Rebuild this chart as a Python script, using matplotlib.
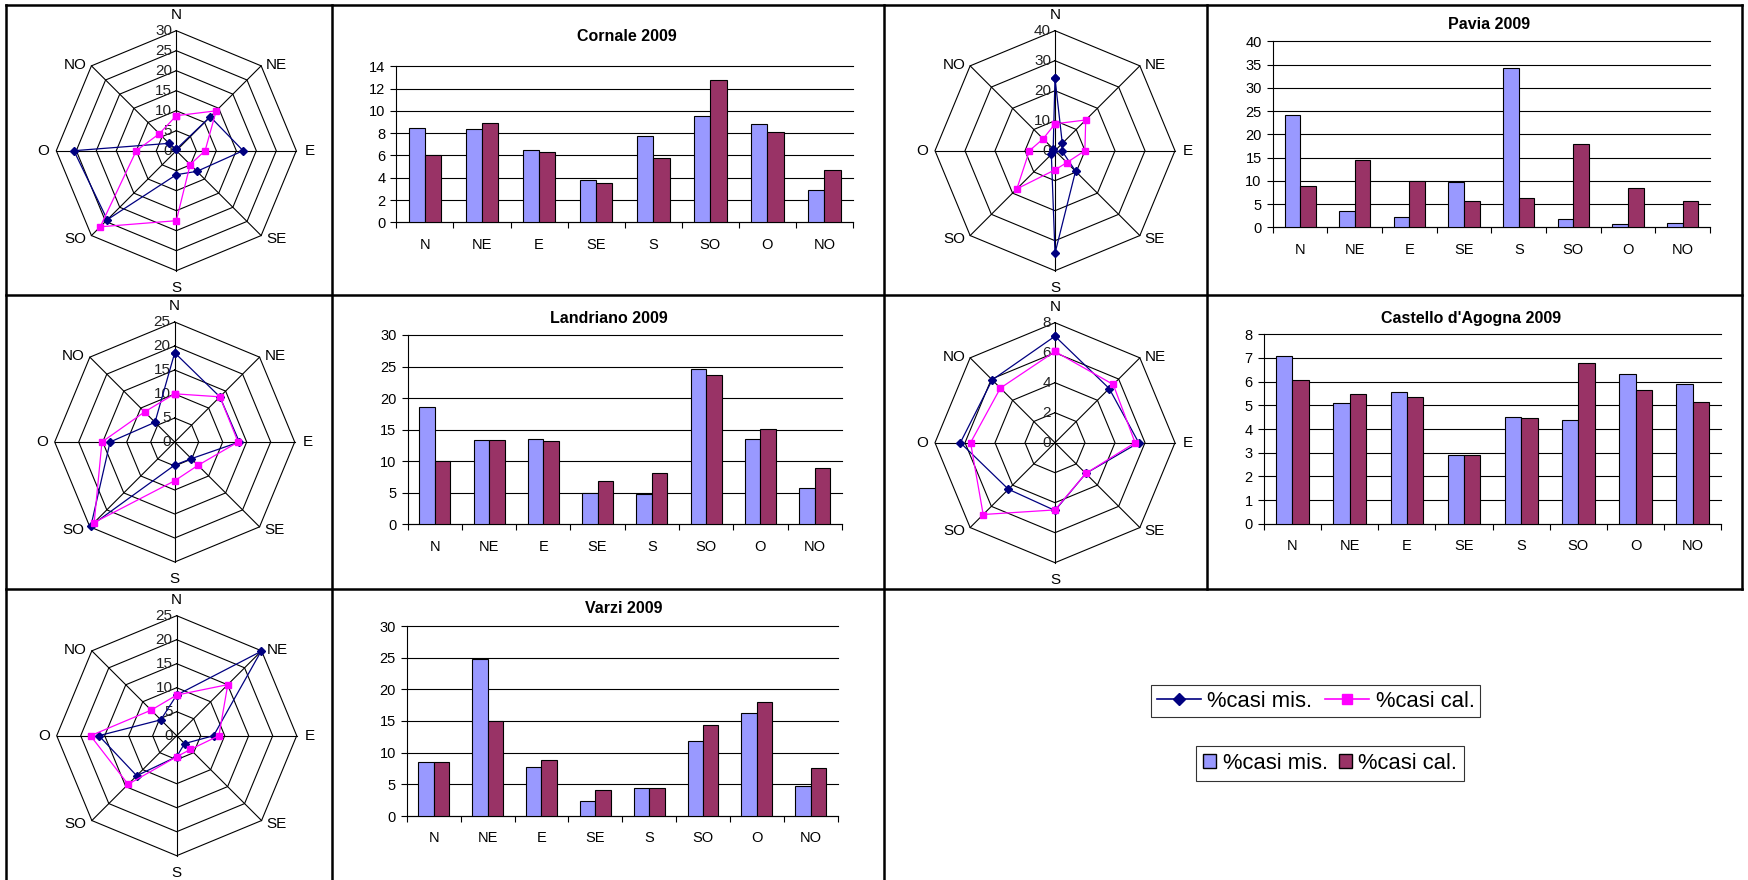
import matplotlib
matplotlib.use('Agg')
import matplotlib.pyplot as plt
import numpy as np
from matplotlib.lines import Line2D
from matplotlib.patches import Patch

plt.rcParams['font.family'] = ['Liberation Sans', 'DejaVu Sans']

W, H = 1748, 880

directions = ['N', 'NE', 'E', 'SE', 'S', 'SO', 'O', 'NO']
label_mis = '%casi mis.'
label_cal = '%casi cal.'

# Radar of the first row (different values from the Cornale bars)
radar1_mis = [0.4, 12.0, 16.7, 7.3, 6.0, 24.4, 25.6, 2.6]
radar1_cal = [8.75, 14.1, 7.2, 4.9, 17.5, 26.9, 10.0, 6.0]

cornale_mis = [8.44, 8.35, 6.46, 3.77, 7.72, 9.51, 8.79, 2.87]
cornale_cal = [6.01, 8.88, 6.28, 3.53, 5.74, 12.74, 8.08, 4.67]

pavia_mis = [24.16, 3.44, 2.29, 9.68, 34.19, 1.72, 0.65, 0.86]
pavia_cal = [8.96, 14.48, 9.96, 5.59, 6.38, 17.99, 8.53, 5.59]

landriano_mis = [18.59, 13.31, 13.47, 4.91, 4.81, 24.67, 13.47, 5.81]
landriano_cal = [10.04, 13.31, 13.21, 6.87, 8.08, 23.72, 15.16, 8.87]

castello_mis = [7.10, 5.11, 5.58, 2.90, 4.52, 4.39, 6.31, 5.92]
castello_cal = [6.08, 5.49, 5.34, 2.90, 4.48, 6.77, 5.63, 5.15]

varzi_mis = [8.47, 24.84, 7.68, 2.32, 4.37, 11.79, 16.21, 4.68]
varzi_cal = [8.47, 15.05, 8.79, 4.05, 4.37, 14.32, 17.95, 7.53]

NAVY = '#000080'
MAGENTA = '#FF00FF'
BLUE_BAR = '#9999FF'
RED_BAR = '#993366'

RADAR_FS = 11
BAR_FS = 10.5
TITLE_FS = 11.5
LEGEND_FS = 15.8

fig = plt.figure(figsize=(W / 100, H / 100), dpi=100)


def px_axes(left, top, right, bottom):
    # axes placed with pixel coordinates measured from the top-left corner
    return fig.add_axes([left / W, 1 - bottom / H, (right - left) / W, (bottom - top) / H])


def draw_radar(cx, cy, mis, cal, rmax, step):
    half = 160
    ax = px_axes(cx - half, cy - half, cx + half, cy + half)
    lim = rmax * half / 120
    ax.set_xlim(-lim, lim)
    ax.set_ylim(-lim, lim)
    ax.axis('off')

    ang = np.radians(np.arange(len(directions)) * 45)
    sx, sy = np.sin(ang), np.cos(ang)
    closed_x = np.append(sx, sx[0])
    closed_y = np.append(sy, sy[0])

    # octagonal grid
    for r in np.arange(step, rmax + step / 2, step):
        ax.plot(closed_x * r, closed_y * r, color='black', lw=0.8, zorder=1)
    for x, y in zip(sx, sy):
        ax.plot([0, x * rmax], [0, y * rmax], color='black', lw=0.8, zorder=1)

    # ring values along the N spoke
    for r in np.arange(0, rmax + step / 2, step):
        ax.annotate(f'{r:g}', (0, r), xytext=(-4, 0), textcoords='offset pixels',
                    ha='right', va='center', fontsize=RADAR_FS, color='#222222', zorder=2)

    # direction labels
    offsets = {'N': (0, 16, 'center'), 'NE': (5, 1, 'left'), 'E': (8, 0, 'left'),
               'SE': (5, -3, 'left'), 'S': (0, -17, 'center'), 'SO': (-5, -3, 'right'),
               'O': (-7, 0, 'right'), 'NO': (-5, 1, 'right')}
    for name, x, y in zip(directions, sx, sy):
        dx, dy, ha = offsets[name]
        ax.annotate(name, (x * rmax, y * rmax), xytext=(dx, dy), textcoords='offset pixels',
                    ha=ha, va='center', fontsize=RADAR_FS)

    m = np.append(mis, mis[0])
    c = np.append(cal, cal[0])
    ax.plot(closed_x * m, closed_y * m, color=NAVY, lw=0.9, marker='D', ms=4, zorder=3, clip_on=False)
    ax.plot(closed_x * c, closed_y * c, color=MAGENTA, lw=0.9, marker='s', ms=4.5, zorder=4, clip_on=False)


def draw_bars(box, title, title_xy, mis, cal, ymax, step):
    ax = px_axes(*box)
    x = np.arange(len(directions)) + 0.5
    w = 1 / 3.5
    ax.bar(x - w / 2, mis, w, color=BLUE_BAR, edgecolor='black', lw=0.8, zorder=3)
    ax.bar(x + w / 2, cal, w, color=RED_BAR, edgecolor='black', lw=0.8, zorder=3)
    ax.set_xlim(0, len(directions))
    ax.set_ylim(0, ymax)
    ax.set_yticks(np.arange(0, ymax + step / 2, step))
    ax.yaxis.grid(True, color='black', lw=0.8)
    for gl in ax.get_ygridlines():
        gl.set_clip_on(False)
    ax.set_axisbelow(True)
    ax.set_xticks(x)
    ax.set_xticklabels(directions)
    ax.set_xticks(np.arange(len(directions) + 1), minor=True)
    ax.tick_params(axis='x', which='major', length=0, pad=11, labelsize=BAR_FS)
    ax.tick_params(axis='x', which='minor', length=4, width=0.8, direction='out')
    ax.tick_params(axis='y', length=4, width=0.8, pad=4, labelsize=BAR_FS)
    for s in ['top', 'right']:
        ax.spines[s].set_visible(False)
    for s in ['left', 'bottom']:
        ax.spines[s].set_linewidth(0.8)
    ax.set_facecolor('none')
    fig.text(title_xy[0] / W, 1 - title_xy[1] / H, title, ha='center', va='center',
             fontsize=TITLE_FS, fontweight='bold')


# row 1
draw_radar(176.3, 150.7, radar1_mis, radar1_cal, 30, 5)
draw_bars((396.4, 66.3, 853, 222.3), 'Cornale 2009', (626.8, 36.7), cornale_mis, cornale_cal, 14, 2)
draw_radar(1055, 150.7, pavia_mis, pavia_cal, 40, 10)
draw_bars((1272.8, 41.3, 1710, 227.3), 'Pavia 2009', (1488.7, 24.3), pavia_mis, pavia_cal, 40, 5)

# row 2
draw_radar(174.7, 442, landriano_mis, landriano_cal, 25, 5)
draw_bars((407.6, 335, 841.8, 524.3), 'Landriano 2009', (609.3, 318.3), landriano_mis, landriano_cal, 30, 5)
draw_radar(1055, 442.7, castello_mis, castello_cal, 8, 2)
draw_bars((1263.9, 334.3, 1721.3, 523.7), "Castello d'Agogna 2009", (1471.5, 318.3),
          castello_mis, castello_cal, 8, 1)

# row 3
draw_radar(176.7, 735.7, varzi_mis, varzi_cal, 25, 5)
draw_bars((406.9, 626, 837.6, 816), 'Varzi 2009', (623.3, 608.7), varzi_mis, varzi_cal, 30, 5)

# table borders
borders = [
    ((6, 5), (1742, 5)),
    ((6, 295.5), (1742, 295.5)),
    ((6, 588.5), (1742, 588.5)),
    ((6, 5), (6, 880)),
    ((331.5, 5), (331.5, 880)),
    ((883.5, 5), (883.5, 880)),
    ((1206.5, 5), (1206.5, 588.5)),
    ((1742, 5), (1742, 588.5)),
]
for (x0, y0), (x1, y1) in borders:
    fig.add_artist(Line2D([x0 / W, x1 / W], [1 - y0 / H, 1 - y1 / H], transform=fig.transFigure,
                          color='black', lw=1.8))

# legends
line_handles = [Line2D([], [], color=NAVY, marker='D', ms=6, lw=1.2),
                Line2D([], [], color=MAGENTA, marker='s', ms=6.5, lw=1.2)]
leg1 = fig.legend(line_handles, [label_mis, label_cal], loc='center',
                  bbox_to_anchor=(1315.8 / W, 1 - 701.2 / H), ncol=2, frameon=True, fancybox=False,
                  edgecolor='black', fontsize=LEGEND_FS, handlelength=2.0, columnspacing=0.6,
                  handletextpad=0.3, borderpad=0.25, borderaxespad=0)
leg1.get_frame().set_linewidth(0.8)

bar_handles = [Patch(facecolor=BLUE_BAR, edgecolor='black'),
               Patch(facecolor=RED_BAR, edgecolor='black')]
leg2 = fig.legend(bar_handles, [label_mis, label_cal], loc='center',
                  bbox_to_anchor=(1330 / W, 1 - 763.5 / H), ncol=2, frameon=True, fancybox=False,
                  edgecolor='black', fontsize=LEGEND_FS, handlelength=0.6, handleheight=0.6,
                  columnspacing=0.5, handletextpad=0.3, borderpad=0.3, borderaxespad=0)
leg2.get_frame().set_linewidth(0.8)

fig.savefig('out.png', dpi=100)
